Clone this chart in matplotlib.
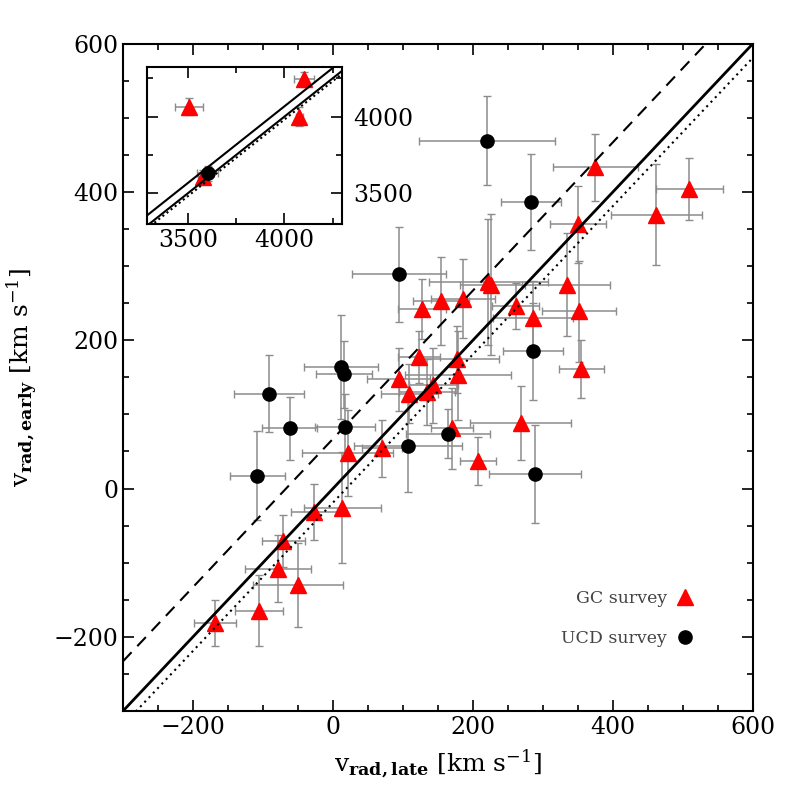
import matplotlib

matplotlib.use("Agg")
import matplotlib.pyplot as plt
from matplotlib.ticker import MultipleLocator

plt.rcParams["font.family"] = ["DejaVu Serif"]
plt.rcParams["mathtext.fontset"] = "dejavuserif"

# GC survey (red triangles): v_late, v_early, err_late, err_early
gc_x = [375, 509, 462, 350, 335, 352, 355, 286, 261, 226, 222, 186, 154, 127, 123, 177, 179,
        94, 109, 134, 143, 170, 207, 268, 70, 21, -27, 13, -71, -78, -50, -106, -168]
gc_y = [433, 404, 369, 356, 275, 239, 161, 230, 246, 275, 279, 256, 253, 242, 177, 174, 153,
        147, 128, 130, 139, 81, 37, 88, 54, 48, -32, -26, -71, -108, -130, -165, -181]
gc_xerr = [61, 48, 65, 40, 61, 53, 32, 57, 34, 44, 85, 46, 40, 34, 30, 60, 76,
           45, 41, 40, 35, 30, 26, 72, 29, 65, 33, 55, 31, 47, 64, 34, 30]
gc_yerr = [45, 42, 68, 52, 70, 68, 39, 50, 31, 95, 85, 53, 59, 40, 35, 45, 60,
           43, 40, 45, 50, 55, 32, 50, 39, 58, 38, 75, 35, 45, 57, 48, 31]

# UCD survey (black circles)
ucd_x = [220, 283, 94, 11, 16, -92, -62, 17, -108, 107, 164, 286, 289]
ucd_y = [469, 386, 289, 164, 154, 128, 81, 83, 17, 57, 74, 185, 20]
ucd_xerr = [97, 43, 67, 53, 40, 50, 39, 43, 39, 77, 60, 43, 66]
ucd_yerr = [60, 65, 64, 70, 45, 52, 43, 45, 60, 62, 33, 65, 66]

# inset: the high-velocity objects
gc_in_x = [3507, 4100, 4078, 3581]
gc_in_y = [4065, 4244, 4000, 3604]
gc_in_xerr = [74, 52, 20, 30]
gc_in_yerr = [55, 49, 60, 45]
ucd_in_x = [3602]
ucd_in_y = [3630]
ucd_in_xerr = [56]
ucd_in_yerr = [51]

# reference relations: 1:1, offset (dashed) and dotted
offset_dash = 67
offset_dot = -19

ebar = dict(ecolor="#8c8c8c", elinewidth=1.1, capsize=3, capthick=1.0, linestyle="none")


def style_axis(ax, major, minor, labelsize):
    ax.xaxis.set_major_locator(MultipleLocator(major))
    ax.xaxis.set_minor_locator(MultipleLocator(minor))
    ax.yaxis.set_major_locator(MultipleLocator(major))
    ax.yaxis.set_minor_locator(MultipleLocator(minor))
    ax.tick_params(which="both", direction="in", top=True, right=True, width=1.2,
                   labelsize=labelsize)
    ax.tick_params(which="major", length=8)
    ax.tick_params(which="minor", length=4)
    for s in ax.spines.values():
        s.set_linewidth(1.5)


fig = plt.figure(figsize=(7.97, 7.97), dpi=100)
ax = fig.add_axes([0.1543, 0.1079, 0.7905, 0.8375])

ax.errorbar(gc_x, gc_y, xerr=gc_xerr, yerr=gc_yerr, marker="^", ms=12, mfc="red",
            mec="red", label="GC survey", zorder=3, **ebar)
ax.errorbar(ucd_x, ucd_y, xerr=ucd_xerr, yerr=ucd_yerr, marker="o", ms=9.5, mfc="black",
            mec="black", label="UCD survey", zorder=3, **ebar)

xx = [-300, 600]
ax.plot(xx, xx, color="black", lw=2, zorder=4)
ax.plot(xx, [v + offset_dash for v in xx], color="black", lw=1.5, ls=(0, (6, 4)), zorder=4)
ax.plot(xx, [v + offset_dot for v in xx], color="black", lw=1.5, ls=(0, (1, 2)), zorder=4)

ax.set_xlim(-300, 600)
ax.set_ylim(-300, 600)
style_axis(ax, 200, 50, 17)

ax.set_xlabel(r"v$_{\mathbf{rad,late}}$ [km s$^{-1}$]", fontsize=18, labelpad=6)
ax.set_ylabel(r"v$_{\mathbf{rad,early}}$ [km s$^{-1}$]", fontsize=18, labelpad=10)

h, l = ax.get_legend_handles_labels()
h = [hh[0] for hh in h]
leg = ax.legend(h, l, loc="lower right", bbox_to_anchor=(0.93, 0.073), frameon=False,
                markerfirst=False, fontsize=12.5, labelspacing=1.3, handlelength=1.0,
                handletextpad=0.5, labelcolor="#444444")

# inset
axi = fig.add_axes([0.1848, 0.7186, 0.2447, 0.197])
axi.errorbar(gc_in_x, gc_in_y, xerr=gc_in_xerr, yerr=gc_in_yerr, marker="^", ms=12,
             mfc="red", mec="red", zorder=3, **ebar)
axi.errorbar(ucd_in_x, ucd_in_y, xerr=ucd_in_xerr, yerr=ucd_in_yerr, marker="o", ms=9.5,
             mfc="black", mec="black", zorder=3, **ebar)
xi = [3200, 4400]
axi.plot(xi, xi, color="black", lw=1.5, zorder=4)
axi.plot(xi, [v + offset_dash for v in xi], color="black", lw=1.5, zorder=4)
axi.plot(xi, [v + offset_dot for v in xi], color="black", lw=1.5, ls=(0, (1, 1.5)), zorder=4)
axi.set_xlim(3290, 4300)
axi.set_ylim(3298, 4322)
style_axis(axi, 500, 250, 17)
axi.yaxis.tick_right()
axi.tick_params(which="both", direction="in", left=True, right=True, labelleft=False,
                labelright=True)
axi.tick_params(axis="y", pad=8)

fig.savefig("out.png", dpi=100)
